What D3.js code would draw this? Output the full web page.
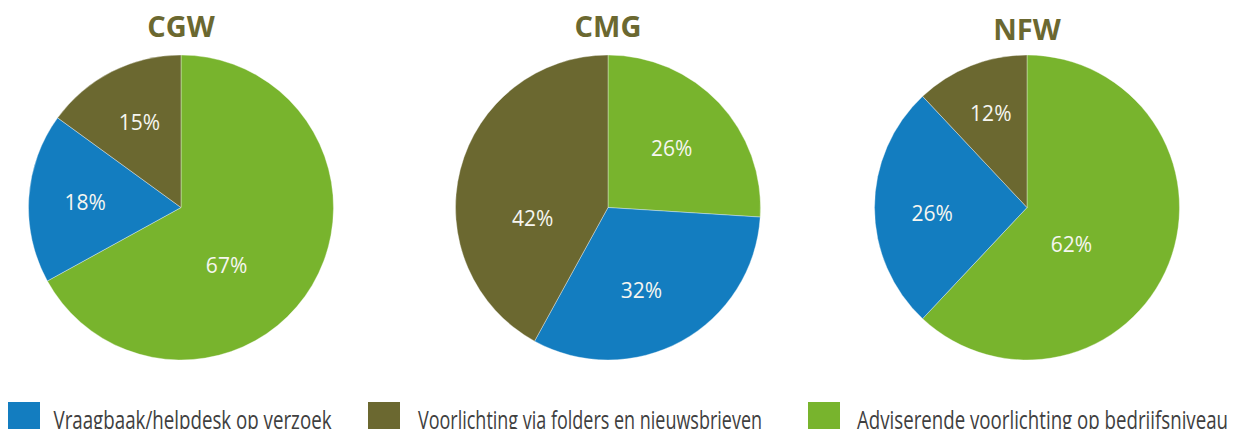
<!DOCTYPE html>
<html>
<head>
<meta charset="utf-8">
<script src="https://cdn.jsdelivr.net/npm/d3@7"></script>
<style>
  html, body { margin: 0; padding: 0; background: #fff; }
  svg { display: block; }
</style>
</head>
<body>
<div id="chart"></div>
<script>
// data
const regions = ["CGW", "CMG", "NFW"];
const categories = [
  "Vraagbaak/helpdesk op verzoek",
  "Voorlichting via folders en nieuwsbrieven",
  "Adviserende voorlichting op bedrijfsniveau"
];
const vraagbaak = [18, 32, 26];
const folders = [15, 42, 12];
const advies = [67, 26, 62];

// layout
const width = 1241, height = 429;
const centers = [181, 608, 1027];
const cy = 207.5, radius = 152.5;
const titleY = [37, 37, 40];
const colors = ["#137dc0", "#6b6830", "#78b42d"];
// label placement (angle in degrees, distance from centre), order = categories
const labelPos = [
  [[273, 96], [334, 95], [142, 74]],
  [[158, 89], [262, 76], [47, 87]],
  [[266.5, 95], [339, 101], [130, 58]]
];
const legendX = [8, 368, 808];
const legendTextX = [53.5, 418, 857];
const legendTextW = [278, 344, 371];

var svg = d3.select("#chart")
  .append("svg")
  .attr("width", width)
  .attr("height", height);

var color = d3.scaleOrdinal().domain(categories).range(colors);

// green first, then blue, then olive, clockwise from 12 o'clock
var pie = d3.pie()
  .sort(null)
  .value(d => d.value);

var arc = d3.arc().innerRadius(0).outerRadius(radius);

regions.forEach(function(region, i) {
  var data = [
    {cat: categories[2], value: advies[i], idx: 2},
    {cat: categories[0], value: vraagbaak[i], idx: 0},
    {cat: categories[1], value: folders[i], idx: 1}
  ];

  var g = svg.append("g")
    .attr("transform", "translate(" + centers[i] + "," + cy + ")");

  g.selectAll("path")
    .data(pie(data))
    .enter()
    .append("path")
    .attr("d", arc)
    .attr("fill", d => color(d.data.cat))
    .attr("stroke", "rgba(255,255,255,0.6)")
    .attr("stroke-width", 0.6);

  g.selectAll("text.pct")
    .data(pie(data))
    .enter()
    .append("text")
    .attr("class", "pct")
    .attr("transform", function(d) {
      var p = labelPos[i][d.data.idx];
      var a = p[0] * Math.PI / 180;
      var c = d3.arc().innerRadius(p[1]).outerRadius(p[1]).startAngle(a).endAngle(a).centroid();
      return "translate(" + c[0] + "," + c[1] + ")";
    })
    .attr("dy", "0.36em")
    .attr("text-anchor", "middle")
    .style("font-family", "'Open Sans', sans-serif")
    .style("font-weight", 400)
    .style("font-size", "21px")
    .attr("fill", "#f6f6f0")
    .text(d => d.data.value + "%");

  svg.append("text")
    .attr("x", centers[i])
    .attr("y", titleY[i])
    .attr("text-anchor", "middle")
    .style("font-family", "'Open Sans', sans-serif")
    .style("font-weight", 700)
    .style("font-size", "29px")
    .attr("fill", "#6b6830")
    .text(region);
});

// legend (runs into the bottom edge, as in the source)
var legend = svg.selectAll("g.legend")
  .data(categories)
  .enter()
  .append("g")
  .attr("class", "legend");

legend.append("rect")
  .attr("x", (d, i) => legendX[i])
  .attr("y", 402)
  .attr("width", 32)
  .attr("height", 32)
  .attr("fill", d => color(d));

legend.append("text")
  .attr("x", (d, i) => legendTextX[i])
  .attr("y", 429)
  .attr("textLength", (d, i) => legendTextW[i])
  .attr("lengthAdjust", "spacingAndGlyphs")
  .style("font-family", "'Open Sans', sans-serif")
  .style("font-weight", 400)
  .style("font-size", "25px")
  .attr("fill", "#404040")
  .text(d => d);
</script>
</body>
</html>
